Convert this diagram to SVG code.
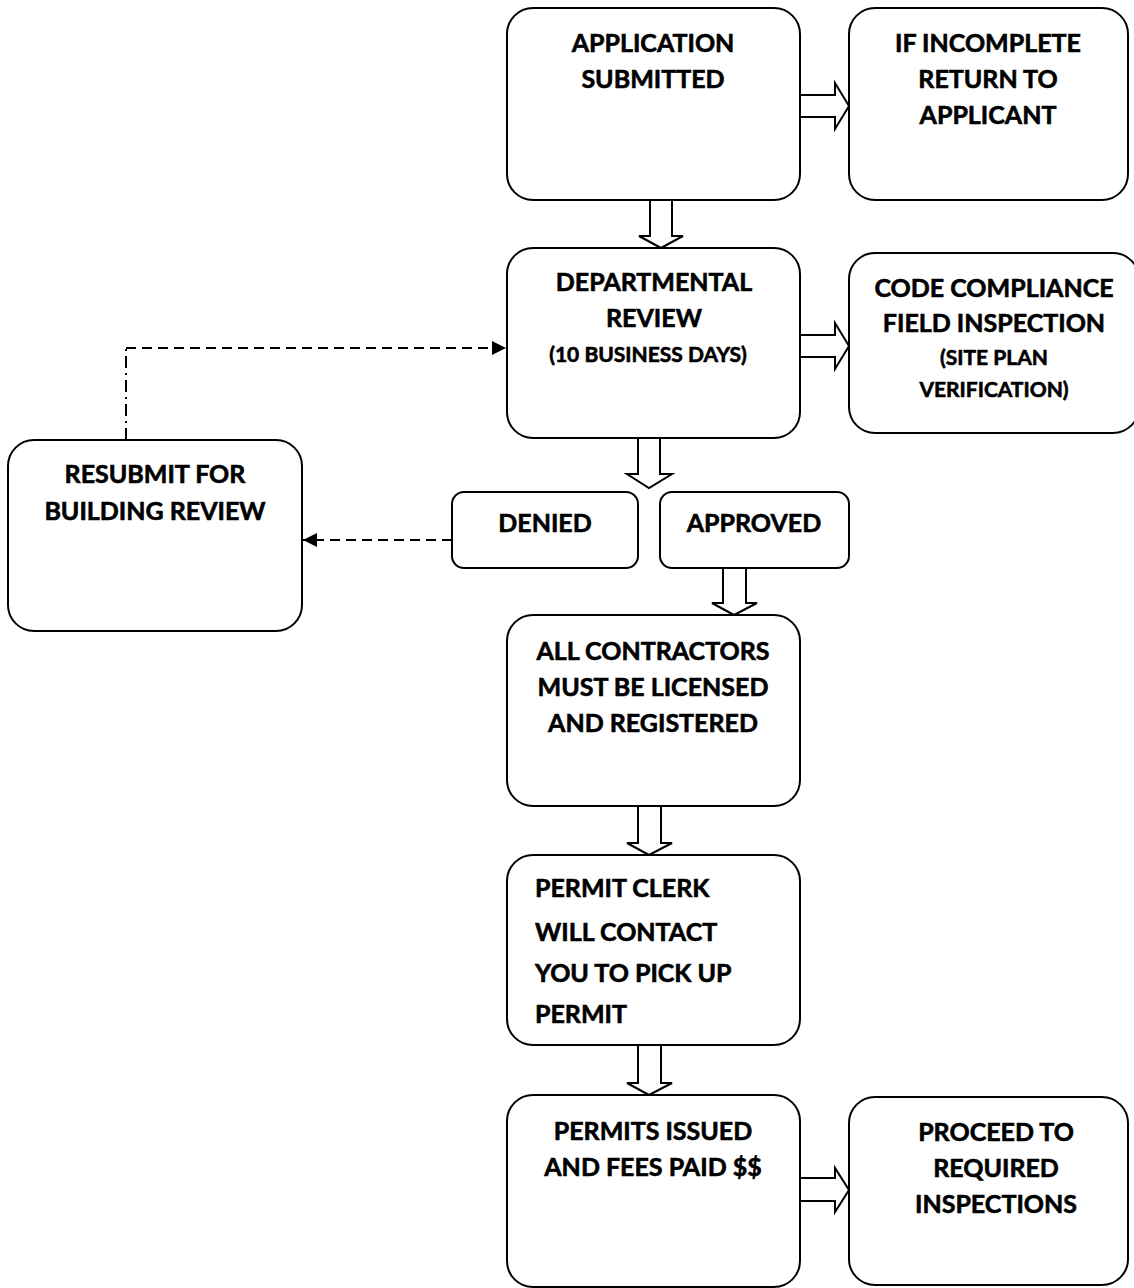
<svg xmlns="http://www.w3.org/2000/svg" width="1134" height="1288" viewBox="0 0 1134 1288">
<defs>
<style>
.box{fill:#fff;stroke:#000;stroke-width:2}
.blk{fill:#fff;stroke:#000;stroke-width:2;stroke-linejoin:miter}
.t{font-family:Lato,"Open Sans",sans-serif;font-weight:bold;font-size:25px;fill:#000;stroke:#000;stroke-width:0.6;text-anchor:middle}
.s{font-size:21px}
.l{text-anchor:start}
.dash{fill:none;stroke:#000;stroke-width:2;stroke-dasharray:10,6}
.dashdot{fill:none;stroke:#000;stroke-width:2;stroke-dasharray:12,5,2,5}
</style>
<marker id="ah" viewBox="0 0 10 10" refX="10" refY="5" markerWidth="7" markerHeight="7" orient="auto" markerUnits="strokeWidth">
<path d="M0,0 L10,5 L0,10 z" fill="#000"/>
</marker>
</defs>
<rect width="1134" height="1288" fill="#fff"/>
<g id="connectors">
<polygon class="blk" points="800,95 835,95 835,83 849,106 835,129 835,117 800,117"/>
<polygon class="blk" points="650,200 672,200 672,236 683,236 661,248 639,236 650,236"/>
<polygon class="blk" points="800,335 835,335 835,323 849,346 835,369 835,357 800,357"/>
<polygon class="blk" points="638,438 660,438 660,474 672,474 649,488 627,474 638,474"/>
<polygon class="blk" points="723,568 746,568 746,603 757,603 734,615 712,603 723,603"/>
<polygon class="blk" points="638,806 661,806 661,843 672,843 649,855 627,843 638,843"/>
<polygon class="blk" points="638,1045 661,1045 661,1083 672,1083 649,1095 627,1083 638,1083"/>
<polygon class="blk" points="800,1178 835,1178 835,1168 849,1190 835,1212 835,1201 800,1201"/>
<path class="dashdot" d="M126,440 V348"/>
<path class="dash" d="M126,348 H506" marker-end="url(#ah)"/>
<path class="dash" d="M452,540 H303" marker-end="url(#ah)"/>
</g>
<g id="n-application">
<rect class="box" x="507" y="8" width="293" height="192" rx="26"/>
<text class="t" x="653" y="52">APPLICATION</text>
<text class="t" x="653" y="88">SUBMITTED</text>
</g>
<g id="n-incomplete">
<rect class="box" x="849" y="8" width="279" height="192" rx="26"/>
<text class="t" x="988" y="52">IF INCOMPLETE</text>
<text class="t" x="988" y="88">RETURN TO</text>
<text class="t" x="988" y="124">APPLICANT</text>
</g>
<g id="n-departmental">
<rect class="box" x="507" y="248" width="293" height="190" rx="26"/>
<text class="t" x="654" y="291">DEPARTMENTAL</text>
<text class="t" x="654" y="327">REVIEW</text>
<text class="t s" x="648" y="362">(10 BUSINESS DAYS)</text>
</g>
<g id="n-code">
<rect class="box" x="849" y="253" width="290" height="180" rx="26"/>
<text class="t" x="994" y="297">CODE COMPLIANCE</text>
<text class="t" x="994" y="332">FIELD INSPECTION</text>
<text class="t s" x="994" y="365">(SITE PLAN</text>
<text class="t s" x="994" y="397">VERIFICATION)</text>
</g>
<g id="n-resubmit">
<rect class="box" x="8" y="440" width="294" height="191" rx="26"/>
<text class="t" x="155" y="483">RESUBMIT FOR</text>
<text class="t" x="155" y="520">BUILDING REVIEW</text>
</g>
<g id="n-denied">
<rect class="box" x="452" y="492" width="186" height="76" rx="12"/>
<text class="t" x="545" y="532">DENIED</text>
</g>
<g id="n-approved">
<rect class="box" x="660" y="492" width="189" height="76" rx="12"/>
<text class="t" x="754" y="532">APPROVED</text>
</g>
<g id="n-contractors">
<rect class="box" x="507" y="615" width="293" height="191" rx="26"/>
<text class="t" x="653" y="660">ALL CONTRACTORS</text>
<text class="t" x="653" y="696">MUST BE LICENSED</text>
<text class="t" x="653" y="732">AND REGISTERED</text>
</g>
<g id="n-clerk">
<rect class="box" x="507" y="855" width="293" height="190" rx="26"/>
<text class="t l" x="535" y="897">PERMIT CLERK</text>
<text class="t l" x="535" y="941">WILL CONTACT</text>
<text class="t l" x="535" y="982">YOU TO PICK UP</text>
<text class="t l" x="535" y="1023">PERMIT</text>
</g>
<g id="n-issued">
<rect class="box" x="507" y="1095" width="293" height="192" rx="26"/>
<text class="t" x="653" y="1140">PERMITS ISSUED</text>
<text class="t" x="653" y="1176">AND FEES PAID $$</text>
</g>
<g id="n-proceed">
<rect class="box" x="849" y="1097" width="279" height="188" rx="26"/>
<text class="t" x="996" y="1141">PROCEED TO</text>
<text class="t" x="996" y="1177">REQUIRED</text>
<text class="t" x="996" y="1213">INSPECTIONS</text>
</g>
</svg>
